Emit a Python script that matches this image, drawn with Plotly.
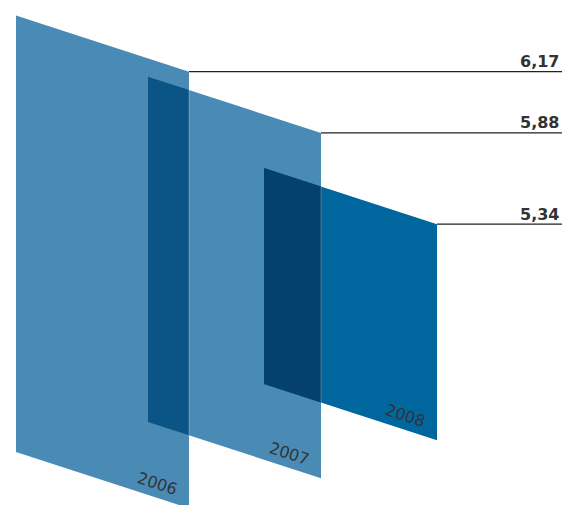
import math
import plotly.graph_objects as go

# ---- data ----
years = ["2006", "2007", "2008"]
values = [6.17, 5.88, 5.34]
value_labels = ["6,17", "5,88", "5,34"]

# ---- layout constants (pixel space) ----
W, H = 563, 505
left_x = [16, 148, 264]          # left edge of each panel
base_y = [452, 422, 384]         # bottom-left corner y of each panel
panel_w = 173
slope = 0.325                    # perspective tilt of the panels
line_end = 562
panel_colors = ["#4a8bb5", "#4a8bb5", "#00669e"]
overlap_colors = ["#0a5585", "#05416f"]


def panel_height(v):
    # perspective height scale (value -> pixel height of the panel's right edge)
    return math.exp(-2.783) * v ** 4.87


panels = []
for i, v in enumerate(values):
    lx = left_x[i]
    rx = lx + panel_w
    bl = base_y[i]
    br = bl + slope * panel_w
    tr = br - panel_height(v)
    tl = tr - slope * panel_w
    panels.append(dict(lx=lx, rx=rx, bl=bl, br=br, tr=tr, tl=tl))

fig = go.Figure()


def poly(xs, ys, color):
    fig.add_trace(go.Scatter(x=xs + [xs[0]], y=ys + [ys[0]], mode="lines",
                             fill="toself", fillcolor=color,
                             line=dict(width=0, color=color),
                             hoverinfo="skip", showlegend=False))


def panel_poly(p, color, x_max=None):
    rx = p["rx"] if x_max is None else x_max
    d = rx - p["lx"]
    xs = [p["lx"], rx, rx, p["lx"]]
    ys = [p["bl"], p["bl"] + slope * d, p["tl"] + slope * d, p["tl"]]
    poly(xs, ys, color)


panel_poly(panels[0], panel_colors[0])
panel_poly(panels[1], panel_colors[1])
panel_poly(panels[1], overlap_colors[0], x_max=panels[0]["rx"])
panel_poly(panels[2], panel_colors[2])
panel_poly(panels[2], overlap_colors[1], x_max=panels[1]["rx"])

# subtle light edge where a panel's right edge crosses the next panel
for i in range(2):
    p = panels[i]
    q = panels[i + 1]
    x = p["rx"]
    d = x - q["lx"]
    y0 = max(p["tr"], q["tl"] + slope * d)
    fig.add_trace(go.Scatter(x=[x, x], y=[y0, min(p["br"], q["bl"] + slope * d)],
                             mode="lines", line=dict(width=1, color="rgba(255,255,255,0.25)"),
                             hoverinfo="skip", showlegend=False))

# value rules
for i, p in enumerate(panels):
    fig.add_trace(go.Scatter(x=[p["rx"], line_end], y=[p["tr"], p["tr"]], mode="lines",
                             line=dict(width=1.2, color="#222222"),
                             hoverinfo="skip", showlegend=False))
    fig.add_annotation(x=560, y=p["tr"] + 0.5, xref="x", yref="y",
                       text="<b>" + value_labels[i] + "</b>",
                       showarrow=False, xanchor="right", yanchor="bottom",
                       font=dict(family="DejaVu Sans", size=16, color="#333333"),
                       borderpad=0)
    fig.add_annotation(x=p["rx"] - 32, y=p["br"] - 25, xref="x", yref="y", text=years[i],
                       showarrow=False, xanchor="center", yanchor="middle", textangle=18,
                       font=dict(family="DejaVu Sans", size=16, color="#333333"))

fig.update_layout(
    width=W, height=H,
    margin=dict(l=0, r=0, t=0, b=0),
    paper_bgcolor="white", plot_bgcolor="white",
    xaxis=dict(range=[0, W], visible=False, fixedrange=True),
    yaxis=dict(range=[H, 0], visible=False, fixedrange=True),
    showlegend=False,
)

fig.write_html("out.html")
